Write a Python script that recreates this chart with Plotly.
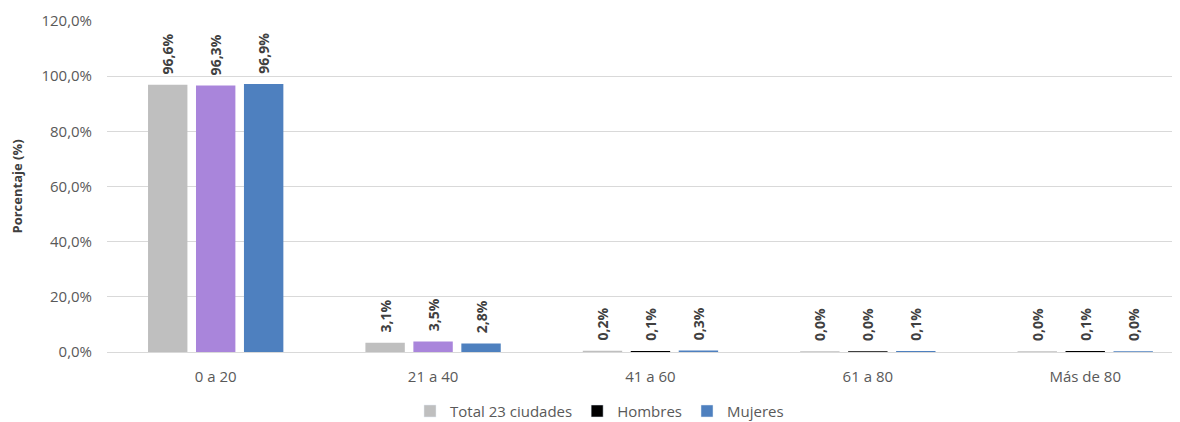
import plotly.graph_objects as go

categories = ["0 a 20", "21 a 40", "41 a 60", "61 a 80", "Más de 80"]
total = [96.6, 3.1, 0.2, 0.04, 0.04]
hombres = [96.3, 3.5, 0.1, 0.04, 0.1]
mujeres = [96.9, 2.8, 0.3, 0.1, 0.04]

series_names = ["Total 23 ciudades", "Hombres", "Mujeres"]
c_total = "#BFBFBF"
c_hombres_bars = ["#A985DB", "#A985DB", "#000000", "#000000", "#000000"]
c_mujeres = "#4E80BF"

FONT = "Open Sans, Noto Sans, sans-serif"
label_font = dict(family=FONT, size=14, color="#404040")
PAD = '<span style="color:rgba(0,0,0,0)">..</span>'

fig = go.Figure()

def add(name, vals, color, group, legend_color=None):
    fig.add_trace(go.Bar(
        name=name, x=categories, y=vals, offsetgroup=group,
        marker=dict(color=color, line=dict(color=color, width=1.5)),
        text=["<b>" + PAD + f"{v:.1f}%".replace(".", ",") + "</b>" for v in vals],
        textposition="outside", textangle=-90,
        textfont=label_font, cliponaxis=False,
        showlegend=False,
    ))
    fig.add_trace(go.Bar(
        name=name, x=[categories[0]], y=[None], offsetgroup=group,
        marker=dict(color=legend_color or color),
        showlegend=True,
    ))

add(series_names[0], total, c_total, "t")
add(series_names[1], hombres, c_hombres_bars, "h", "#000000")
add(series_names[2], mujeres, c_mujeres, "m")

# the page body has an 8px margin, so the figure is sized/placed to compensate
fig.update_layout(
    width=1172, height=414,
    margin=dict(l=99, r=0, t=13, b=70, autoexpand=False),
    plot_bgcolor="white", paper_bgcolor="white",
    barmode="group", bargap=0.338, bargroupgap=0.21,
    separators=",.",
    font=dict(family=FONT, size=15, color="#595959"),
    uniformtext=dict(minsize=14, mode="show"),
    legend=dict(orientation="h", x=0.459, xanchor="center", y=-0.179, yanchor="middle",
                font=dict(family=FONT, size=15, color="#595959"),
                itemwidth=30, tracegroupgap=0, traceorder="normal"),
    xaxis=dict(range=[-0.5, 4.436], showline=True, linecolor="#D9D9D9", linewidth=1,
               ticks="", automargin=False, ticklabelstandoff=11,
               tickfont=dict(family=FONT, size=15, color="#595959")),
    yaxis=dict(range=[0, 120], dtick=20, tickformat=".1f", ticksuffix="%",
               showgrid=True, gridcolor="#D9D9D9", gridwidth=1, zeroline=False,
               automargin=False, ticklabelstandoff=14,
               tickfont=dict(family=FONT, size=15, color="#595959"),
               title=dict(text="<b>Porcentaje (%)</b>", font=dict(family=FONT, size=13, color="#404040"),
                          standoff=20)),
)

fig.write_html("out.html")
